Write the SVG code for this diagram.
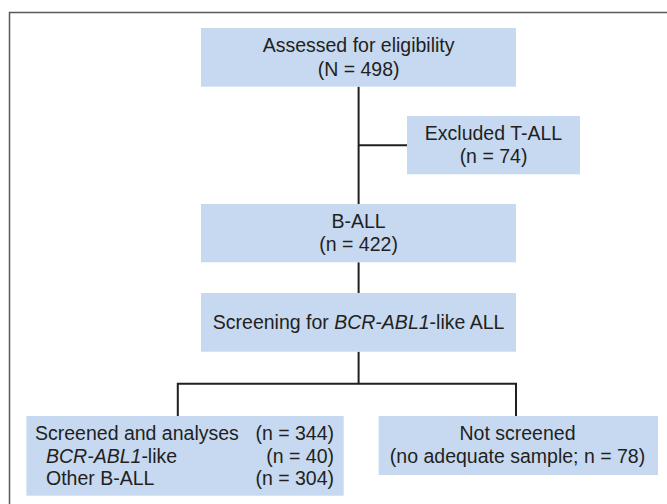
<svg xmlns="http://www.w3.org/2000/svg" width="667" height="504" viewBox="0 0 667 504">
<style>
.box{fill:#c6d9f0;stroke:none}
.t{font-family:"Liberation Sans",Arial,sans-serif;font-size:19.5px;fill:#231f20}
.c{text-anchor:middle}
.e{text-anchor:end}
.i{font-style:italic}
.ln{fill:none;stroke:#231f20;stroke-width:2}
.frame{fill:none;stroke:#58595b;stroke-width:1.5}
</style>
<rect width="667" height="504" fill="#ffffff"/>
<path class="frame" d="M9.5,504 V12.5 H667"/>
<g id="connectors">
<path class="ln" d="M358.6,86.7 V204"/>
<path class="ln" d="M358.6,145.3 H407"/>
<path class="ln" d="M358.6,262.3 V293"/>
<path class="ln" d="M358.6,351.7 V383.7"/>
<path class="ln" d="M177.8,416 V383.7 H516 V416"/>
</g>
<g id="assessed">
<rect class="box" x="201" y="28" width="315" height="58.7"/>
<text class="t c" x="358.6" y="52.3">Assessed for eligibility</text>
<text class="t c" x="358.6" y="75.5">(N = 498)</text>
</g>
<g id="excluded">
<rect class="box" x="407" y="116" width="173" height="58.3"/>
<text class="t c" x="493.5" y="139.5">Excluded T-ALL</text>
<text class="t c" x="493.5" y="163">(n = 74)</text>
</g>
<g id="ball">
<rect class="box" x="201" y="204" width="315" height="58.3"/>
<text class="t c" x="358.6" y="228.3">B-ALL</text>
<text class="t c" x="358.6" y="251">(n = 422)</text>
</g>
<g id="screening">
<rect class="box" x="201" y="293" width="315" height="58.7"/>
<text class="t c" x="358.6" y="329">Screening for <tspan class="i">BCR-ABL1</tspan>-like ALL</text>
</g>
<g id="screened">
<rect class="box" x="26.4" y="416" width="317.3" height="79.7"/>
<text class="t" x="35" y="440">Screened and analyses</text>
<text class="t e" x="334" y="440">(n = 344)</text>
<text class="t" x="46" y="462.5"><tspan class="i">BCR-ABL1</tspan>-like</text>
<text class="t e" x="334" y="462.5">(n = 40)</text>
<text class="t" x="46" y="485">Other B-ALL</text>
<text class="t e" x="334" y="485">(n = 304)</text>
</g>
<g id="notscreened">
<rect class="box" x="378.6" y="416" width="279.4" height="59"/>
<text class="t c" x="517.5" y="440">Not screened</text>
<text class="t c" x="517.5" y="463">(no adequate sample; n = 78)</text>
</g>
</svg>
